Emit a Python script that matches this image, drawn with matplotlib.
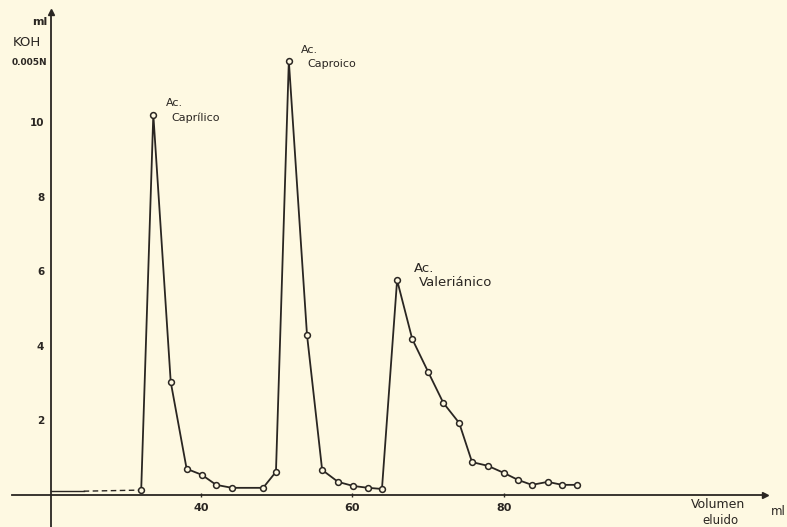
import matplotlib
matplotlib.use('Agg')
import matplotlib.pyplot as plt

# volume eluted (ml) and KOH 0.005N titration (ml)
volumen = [32.1, 33.7, 36.0, 38.1, 40.1, 42.0, 44.1, 48.2, 49.9,
           51.6, 54.0, 56.0, 58.1, 60.1, 62.1, 63.9,
           65.9, 67.9, 70.0, 72.0, 74.1, 75.8, 77.9, 80.0, 81.9,
           83.7, 85.8, 87.7, 89.7]
koh = [0.13, 10.2, 3.03, 0.70, 0.54, 0.27, 0.19, 0.19, 0.62,
       11.64, 4.29, 0.67, 0.35, 0.24, 0.19, 0.16,
       5.76, 4.18, 3.30, 2.47, 1.93, 0.88, 0.78, 0.59, 0.40,
       0.27, 0.35, 0.27, 0.27]

# baseline before the first peak: solid then dashed
base_x = [20.2, 24.5, 32.1]
base_y = [0.10, 0.10, 0.13]

picos = [(33.7, 10.2, 'Caprílico', 8), (51.6, 11.64, 'Caproico', 8),
         (65.9, 5.76, 'Valeriánico', 9.5)]
xticks = [40, 60, 80]
yticks = [2, 4, 6, 8, 10]

bg = '#fef9e2'
ink = '#2a2622'

fig = plt.figure(figsize=(7.87, 5.27), dpi=100, facecolor=bg)
ax = fig.add_axes([0, 0, 1, 1], facecolor=bg)
ax.set_xlim(13.45, 117.4)
ax.set_ylim(-0.86, 13.27)

# axes drawn as hand-style arrows
ax.spines[['top', 'right']].set_visible(False)
ax.spines['left'].set_position(('data', 20.2))
ax.spines['bottom'].set_position(('data', 0))
ax.spines['left'].set_bounds(-0.9, 12.9)
ax.spines['bottom'].set_bounds(15.0, 114.2)
for s in ['left', 'bottom']:
    ax.spines[s].set_color(ink)
    ax.spines[s].set_linewidth(1.3)
ax.plot(114.5, 0, '>', color=ink, ms=5, clip_on=False)
ax.plot(20.2, 12.95, '^', color=ink, ms=4, clip_on=False)

ax.set_xticks(xticks)
ax.set_yticks(yticks)
ax.tick_params(axis='x', length=3, direction='inout', width=1, color=ink,
               labelsize=8, labelcolor=ink, pad=4)
ax.tick_params(axis='y', length=0, labelsize=7.5, labelcolor=ink, pad=5)
for lab in ax.get_yticklabels() + ax.get_xticklabels():
    lab.set_fontweight('bold')

# baseline
ax.plot(base_x[:2], base_y[:2], color=ink, lw=1.0)
ax.plot(base_x[1:], base_y[1:], color=ink, lw=1.0, ls=(0, (4, 2.5)))

# curve
ax.plot(volumen, koh, color=ink, lw=1.3, marker='o', ms=4.2,
        mfc=bg, mec=ink, mew=1.1, zorder=3)

for x, y, nombre, fs in picos:
    dx = 9 if fs < 9 else 12
    ax.annotate('Ac.', (x, y), xytext=(dx, 8), textcoords='offset points',
                fontsize=fs, color=ink, va='center', ha='left')
    ax.annotate(nombre, (x, y), xytext=(dx + 4, -2), textcoords='offset points',
                fontsize=fs, color=ink, va='center', ha='left')

# axis titles
ax.text(0.051, 0.958, 'ml', transform=ax.transAxes, fontsize=8, color=ink,
        ha='center', va='center', fontweight='bold')
ax.text(0.034, 0.920, 'KOH', transform=ax.transAxes, fontsize=9.5, color=ink,
        ha='center', va='center')
ax.text(0.037, 0.882, '0.005N', transform=ax.transAxes, fontsize=6.5, color=ink,
        ha='center', va='center', fontweight='bold')
ax.text(0.912, 0.043, 'Volumen', transform=ax.transAxes, fontsize=9, color=ink,
        ha='center', va='center')
ax.text(0.915, 0.012, 'eluido', transform=ax.transAxes, fontsize=8.5, color=ink,
        ha='center', va='center')
ax.text(0.989, 0.030, 'ml', transform=ax.transAxes, fontsize=8.5, color=ink,
        ha='center', va='center')

fig.savefig('out.png', dpi=100, facecolor=bg)
